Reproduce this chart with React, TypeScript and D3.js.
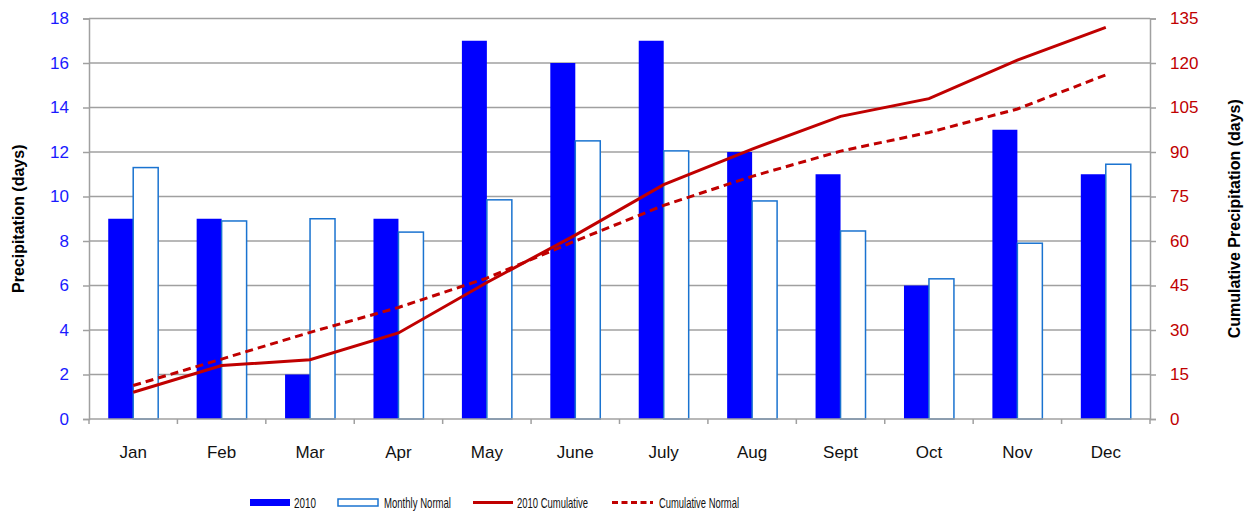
import { useEffect, useRef } from "react";
import * as d3 from "d3";

const months = ["Jan", "Feb", "Mar", "Apr", "May", "June", "July", "Aug", "Sept", "Oct", "Nov", "Dec"];
const days2010 = [9, 9, 2, 9, 17, 16, 17, 12, 11, 6, 13, 11];
const monthlyNormal = [11.3, 8.9, 9.0, 8.4, 9.85, 12.5, 12.05, 9.8, 8.45, 6.3, 7.9, 11.45];
const cumulative2010 = [9, 18, 20, 29, 46, 62, 79, 91, 102, 108, 121, 132];
const cumulativeNormal = [11.3, 20.2, 29.2, 37.6, 47.5, 60, 72, 81.8, 90.3, 96.6, 104.5, 116];
const leftTicks = [0, 2, 4, 6, 8, 10, 12, 14, 16, 18];
const rightTicks = [0, 15, 30, 45, 60, 75, 90, 105, 120, 135];

const BLUE = "#0000ff";
const OUTLINE = "#1a73d0";
const RED = "#c00000";
const GRID = "#a0a0a0";
const FONT = "Liberation Sans, Arial, sans-serif";

export default function App() {
  const svgRef = useRef<SVGSVGElement>(null);

  useEffect(() => {
    if (!svgRef.current) return;
    const svg = d3.select(svgRef.current);
    svg.selectAll("*").remove();

    const left = 89;
    const right = 1150;
    const top = 18.5;
    const bottom = 419;

    const x = d3
      .scaleBand<string>()
      .domain(months)
      .range([left, right])
      .paddingInner(0.435)
      .paddingOuter(0.2175);
    const step = x.step();
    const bw = x.bandwidth() / 2;

    const y = d3.scaleLinear().domain([0, 18]).range([bottom, top]);
    const y2 = d3.scaleLinear().domain([0, 135]).range([bottom, top]);

    // grid lines
    svg
      .append("g")
      .selectAll("line")
      .data(leftTicks.filter((t) => t > 0))
      .join("line")
      .attr("x1", left)
      .attr("x2", right)
      .attr("y1", (d) => y(d))
      .attr("y2", (d) => y(d))
      .attr("stroke", GRID)
      .attr("stroke-width", 1.5);

    // bars
    const bars = svg.append("g");
    bars
      .selectAll("rect.b2010")
      .data(days2010)
      .join("rect")
      .attr("class", "b2010")
      .attr("x", (_, i) => x(months[i])!)
      .attr("y", (d) => y(d))
      .attr("width", bw)
      .attr("height", (d) => bottom - y(d))
      .attr("fill", BLUE);

    bars
      .selectAll("rect.bnorm")
      .data(monthlyNormal)
      .join("rect")
      .attr("class", "bnorm")
      .attr("x", (_, i) => x(months[i])! + bw)
      .attr("y", (d) => y(d))
      .attr("width", bw)
      .attr("height", (d) => bottom - y(d))
      .attr("fill", "#ffffff")
      .attr("stroke", OUTLINE)
      .attr("stroke-width", 1.5);

    // axes
    const leftAxis = svg
      .append("g")
      .attr("transform", `translate(${left},0)`)
      .call(d3.axisLeft(y).tickValues(leftTicks).tickSize(6).tickPadding(14).tickFormat(d3.format("d")));
    leftAxis.select(".domain").attr("stroke", GRID).attr("stroke-width", 1.5);
    leftAxis.selectAll(".tick line").attr("stroke", GRID).attr("stroke-width", 1.5);
    leftAxis
      .selectAll(".tick text")
      .attr("fill", "#1a1aff")
      .style("font-family", FONT)
      .style("font-size", "17px");

    const rightAxis = svg
      .append("g")
      .attr("transform", `translate(${right},0)`)
      .call(d3.axisRight(y2).tickValues(rightTicks).tickSize(6).tickPadding(14).tickFormat(d3.format("d")));
    rightAxis.select(".domain").attr("stroke", GRID).attr("stroke-width", 1.5);
    rightAxis.selectAll(".tick line").attr("stroke", GRID).attr("stroke-width", 1.5);
    rightAxis
      .selectAll(".tick text")
      .attr("fill", RED)
      .style("font-family", FONT)
      .style("font-size", "17px");

    // bottom axis line and ticks at category boundaries
    svg
      .append("line")
      .attr("x1", left)
      .attr("x2", right)
      .attr("y1", bottom)
      .attr("y2", bottom)
      .attr("stroke", GRID)
      .attr("stroke-width", 1.5);
    svg
      .append("g")
      .selectAll("line")
      .data(d3.range(months.length + 1))
      .join("line")
      .attr("x1", (i) => left + i * step)
      .attr("x2", (i) => left + i * step)
      .attr("y1", bottom)
      .attr("y2", bottom + 5)
      .attr("stroke", GRID)
      .attr("stroke-width", 1.5);
    svg
      .append("g")
      .selectAll("text")
      .data(months)
      .join("text")
      .attr("x", (d) => x(d)! + x.bandwidth() / 2)
      .attr("y", 458)
      .attr("text-anchor", "middle")
      .style("font-family", FONT)
      .style("font-size", "17px")
      .attr("fill", "#111")
      .text((d) => d);

    // lines
    const line = d3
      .line<number>()
      .x((_, i) => x(months[i])! + x.bandwidth() / 2)
      .y((d) => y2(d));

    svg
      .append("path")
      .datum(cumulativeNormal)
      .attr("fill", "none")
      .attr("stroke", RED)
      .attr("stroke-width", 3)
      .attr("stroke-dasharray", "8,5")
      .attr("d", line);

    svg
      .append("path")
      .datum(cumulative2010)
      .attr("fill", "none")
      .attr("stroke", RED)
      .attr("stroke-width", 3)
      .attr("d", line);

    // axis titles
    svg
      .append("text")
      .attr("transform", `translate(24,${(top + bottom) / 2}) rotate(-90)`)
      .attr("text-anchor", "middle")
      .style("font-family", FONT)
      .style("font-size", "16px")
      .style("font-weight", "bold")
      .text("Precipitation (days)");

    svg
      .append("text")
      .attr("transform", `translate(1240,${(top + bottom) / 2}) rotate(-90)`)
      .attr("text-anchor", "middle")
      .style("font-family", FONT)
      .style("font-size", "16px")
      .style("font-weight", "bold")
      .text("Cumulative Precipitation (days)");

    // legend
    const lg = svg.append("g").style("font-family", FONT).style("font-size", "15px");
    const legendText = (tx: number, w: number, label: string) =>
      lg
        .append("text")
        .attr("x", tx)
        .attr("y", 508)
        .attr("fill", "#111")
        .attr("textLength", w)
        .attr("lengthAdjust", "spacingAndGlyphs")
        .text(label);

    lg.append("rect").attr("x", 250).attr("y", 499).attr("width", 40).attr("height", 7).attr("fill", BLUE);
    legendText(294, 22, "2010");
    lg.append("rect")
      .attr("x", 338)
      .attr("y", 499)
      .attr("width", 40)
      .attr("height", 7)
      .attr("fill", "#fff")
      .attr("stroke", OUTLINE)
      .attr("stroke-width", 1.5);
    legendText(384, 67, "Monthly Normal");
    lg.append("line").attr("x1", 473).attr("x2", 513).attr("y1", 502.5).attr("y2", 502.5).attr("stroke", RED).attr("stroke-width", 3);
    legendText(517, 71, "2010 Cumulative");
    lg.append("line")
      .attr("x1", 612)
      .attr("x2", 653)
      .attr("y1", 502.5)
      .attr("y2", 502.5)
      .attr("stroke", RED)
      .attr("stroke-width", 3)
      .attr("stroke-dasharray", "6,3.5");
    legendText(659, 80, "Cumulative Normal");
  }, []);

  return (
    <svg
      ref={svgRef}
      width={1248}
      height={513}
      style={{ position: "absolute", left: 0, top: 0, background: "#fff" }}
    />
  );
}
